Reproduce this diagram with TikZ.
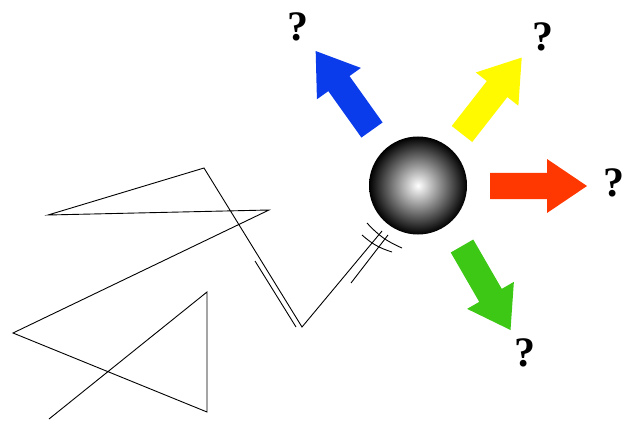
\documentclass[tikz,border=0pt]{standalone}
\usepackage{fontspec}
\setmainfont{Liberation Serif}
\usepackage{tikz}
\usetikzlibrary{positioning}
\definecolor{arrBlue}{RGB}{10,60,235}
\definecolor{arrYellow}{RGB}{255,250,0}
\definecolor{arrRed}{RGB}{255,55,0}
\definecolor{arrGreen}{RGB}{60,200,20}
\tikzset{
  walk/.style={draw=black, line width=0.9pt, line join=miter},
  brk/.style={draw=black, line width=0.9pt},
  qm/.style={font=\fontsize{42}{42}\selectfont\bfseries, inner sep=0pt},
  fatarrow/.pic={
    \fill (0,-13) -- (57,-13) -- (57,-27) -- (97,0) -- (57,27) -- (57,13) -- (0,13) -- cycle;
  }
}

\begin{document}
\begin{tikzpicture}[x=1pt, y=-1pt]
  \useasboundingbox (0,0) rectangle (623,422);

  % Walk corners
  \coordinate (p0) at (49,419);
  \coordinate (p1) at (207,292);
  \coordinate (p2) at (207,412);
  \coordinate (p3) at (13,333);
  \coordinate (p4) at (269,210);
  \coordinate (p5) at (48,215);
  \coordinate (p6) at (204,168);
  \coordinate (p7) at (302,327);
  \coordinate (p8) at (382,231);

  % Random walk
  \draw[walk] (p0) -- (p1) -- (p2) -- (p3) -- (p4) -- (p5) -- (p6) -- (p7) -- (p8);

  % Double strokes
  \coordinate (d1) at (255,261);
  \coordinate (d2) at (296,327);
  \coordinate (d3) at (351,283);
  \coordinate (d4) at (388,235);
  \draw[brk] (d1) -- (d2);
  \draw[brk] (d3) -- (d4);

  % Break marks
  \coordinate (a1) at (367,223);
  \coordinate (a2) at (402,248);
  \coordinate (a3) at (362,235);
  \coordinate (a4) at (392,252);
  \draw[brk] (a1) to[bend right=12] (a2);
  \draw[brk] (a3) to[bend right=12] (a4);

  % Ball
  \shade[inner color=white, outer color=black] (418,185.5) circle (49);

  % Arrows
  \pic[color=arrBlue, rotate=125.5] at (372,130) {fatarrow};
  \pic[color=arrYellow, rotate=52] at (462,134) {fatarrow};
  \pic[color=arrRed, rotate=0] at (490,186) {fatarrow};
  \pic[color=arrGreen, rotate=-60] at (462,246) {fatarrow};

  % Question marks
  \node[qm] (q1) at (298,27) {?};
  \node[qm] (q2) at (543,37) {?};
  \node[qm] (q3) at (614,183) {?};
  \node[qm] (q4) at (525,353) {?};
\end{tikzpicture}
\end{document}
